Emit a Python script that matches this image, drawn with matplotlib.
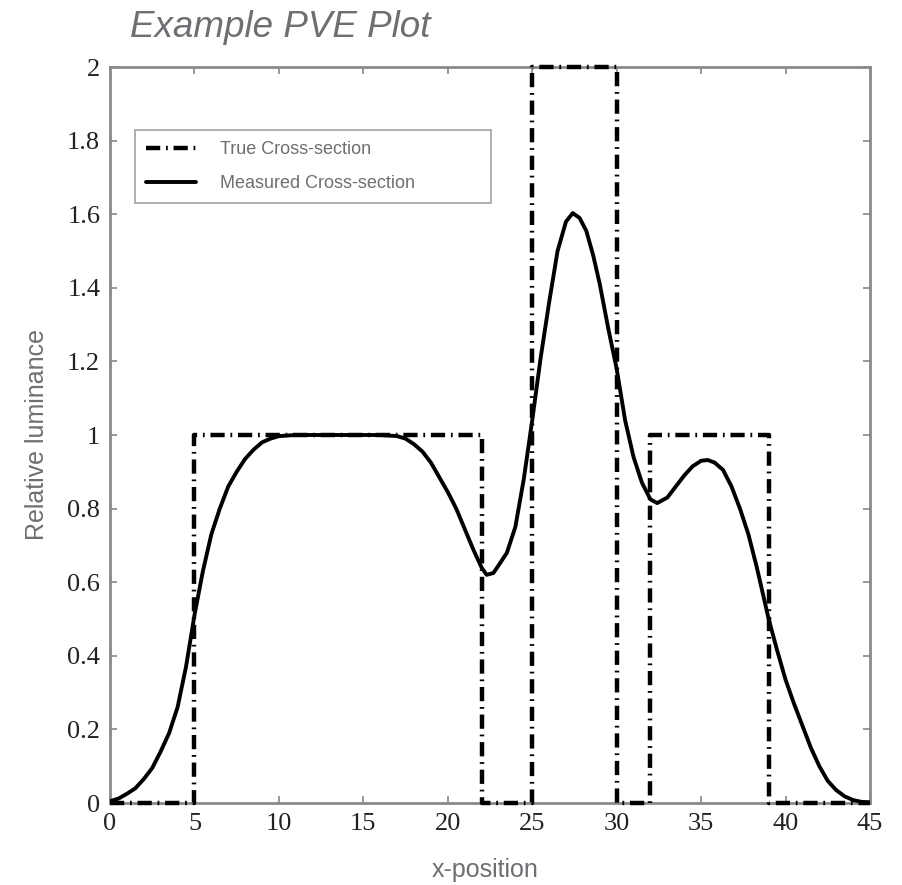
import matplotlib
matplotlib.use("Agg")
import matplotlib.pyplot as plt
from matplotlib.ticker import FuncFormatter

# True cross-section (step edges and levels)
true_x = [0, 5, 5, 22, 22, 25, 25, 30, 30, 32, 32, 39, 39, 45]
true_y = [0, 0, 1, 1, 0, 0, 2, 2, 0, 0, 1, 1, 0, 0]

# Measured cross-section
meas_x = [0, 0.5, 1, 1.5, 2, 2.5, 3, 3.5, 4, 4.5, 5, 5.5, 6, 6.5, 7, 7.5, 8, 8.5,
          9, 9.5, 10, 11, 12, 13, 14, 15, 16, 17, 17.5, 18, 18.5, 19, 19.5, 20,
          20.5, 21, 21.5, 22, 22.3, 22.7, 23, 23.5, 24, 24.5, 25, 25.5, 26, 26.5,
          27, 27.4, 27.8, 28.2, 28.6, 29, 29.5, 30, 30.5, 31, 31.5, 32, 32.4, 33,
          33.5, 34, 34.5, 35, 35.4, 35.8, 36.3, 36.8, 37.3, 37.8, 38.3, 38.7, 39,
          39.5, 40, 40.5, 41, 41.5, 42, 42.5, 43, 43.5, 44, 44.5, 45]
meas_y = [0.005, 0.012, 0.025, 0.04, 0.065, 0.095, 0.14, 0.19, 0.26, 0.37, 0.51,
          0.63, 0.73, 0.80, 0.86, 0.90, 0.935, 0.96, 0.98, 0.99, 0.997, 1.0, 1.0,
          1.0, 1.0, 1.0, 1.0, 0.997, 0.99, 0.975, 0.955, 0.925, 0.885, 0.845, 0.80,
          0.745, 0.69, 0.64, 0.62, 0.625, 0.645, 0.68, 0.75, 0.88, 1.04, 1.21, 1.36,
          1.50, 1.58, 1.603, 1.59, 1.555, 1.49, 1.41, 1.29, 1.18, 1.04, 0.94, 0.87,
          0.825, 0.815, 0.83, 0.86, 0.89, 0.915, 0.93, 0.932, 0.925, 0.905, 0.86,
          0.80, 0.73, 0.64, 0.56, 0.50, 0.415, 0.335, 0.27, 0.21, 0.15, 0.10, 0.06,
          0.035, 0.018, 0.008, 0.003, 0.002]

x_ticks = [0, 5, 10, 15, 20, 25, 30, 35, 40, 45]
y_ticks = [0, 0.2, 0.4, 0.6, 0.8, 1.0, 1.2, 1.4, 1.6, 1.8, 2.0]

gray = "#6e6e73"

fig = plt.figure(figsize=(9.03, 8.85), dpi=100)
ax = fig.add_axes([110/903, 1-803/885, 760/903, 736/885])

ax.plot(true_x, true_y, color="black", lw=3.2, linestyle=(0, (3.2, 1.3, 0.4, 1.3)),
        label="True Cross-section", clip_on=False, zorder=3)
ax.plot(meas_x, meas_y, color="black", lw=2.8, label="Measured Cross-section",
        solid_capstyle="round", solid_joinstyle="round", zorder=4)

ax.set_xlim(0, 45)
ax.set_ylim(0, 2)
ax.set_xticks(x_ticks)
ax.set_yticks(y_ticks)
ax.yaxis.set_major_formatter(FuncFormatter(lambda v, p: "%g" % v))
ax.tick_params(direction="in", length=5, width=1.2, color="#888888",
               top=True, right=True, labelsize=19, labelcolor="#222222", pad=7)
for lab in ax.get_xticklabels() + ax.get_yticklabels():
    lab.set_fontfamily("Liberation Serif")
for sp in ax.spines.values():
    sp.set_color("#8a8a8a")
    sp.set_linewidth(2)

leg = ax.legend(loc="upper left", bbox_to_anchor=(0.033, 0.808, 0.468, 0.106),
                mode="expand", frameon=True, fancybox=False, borderaxespad=0,
                prop={"family": "Liberation Sans", "size": 13},
                handlelength=2.8, handletextpad=1.3, labelspacing=0.95,
                borderpad=0.6)
leg.get_frame().set_edgecolor("#8a8a8a")
leg.get_frame().set_linewidth(1.2)
for t in leg.get_texts():
    t.set_color(gray)

fig.text(130/903, 1-37/885, "Example PVE Plot", fontsize=26.5, style="italic",
         family="Liberation Sans", color=gray, ha="left", va="baseline")
fig.text(485/903, 1-870/885, "x-position", fontsize=18, family="Liberation Sans",
         color=gray, ha="center", va="center")
fig.text(37/903, 1-435/885, "Relative luminance", fontsize=18, rotation=90,
         family="Liberation Sans", color=gray, ha="center", va="center")

fig.savefig("out.png", dpi=100, facecolor="white")
